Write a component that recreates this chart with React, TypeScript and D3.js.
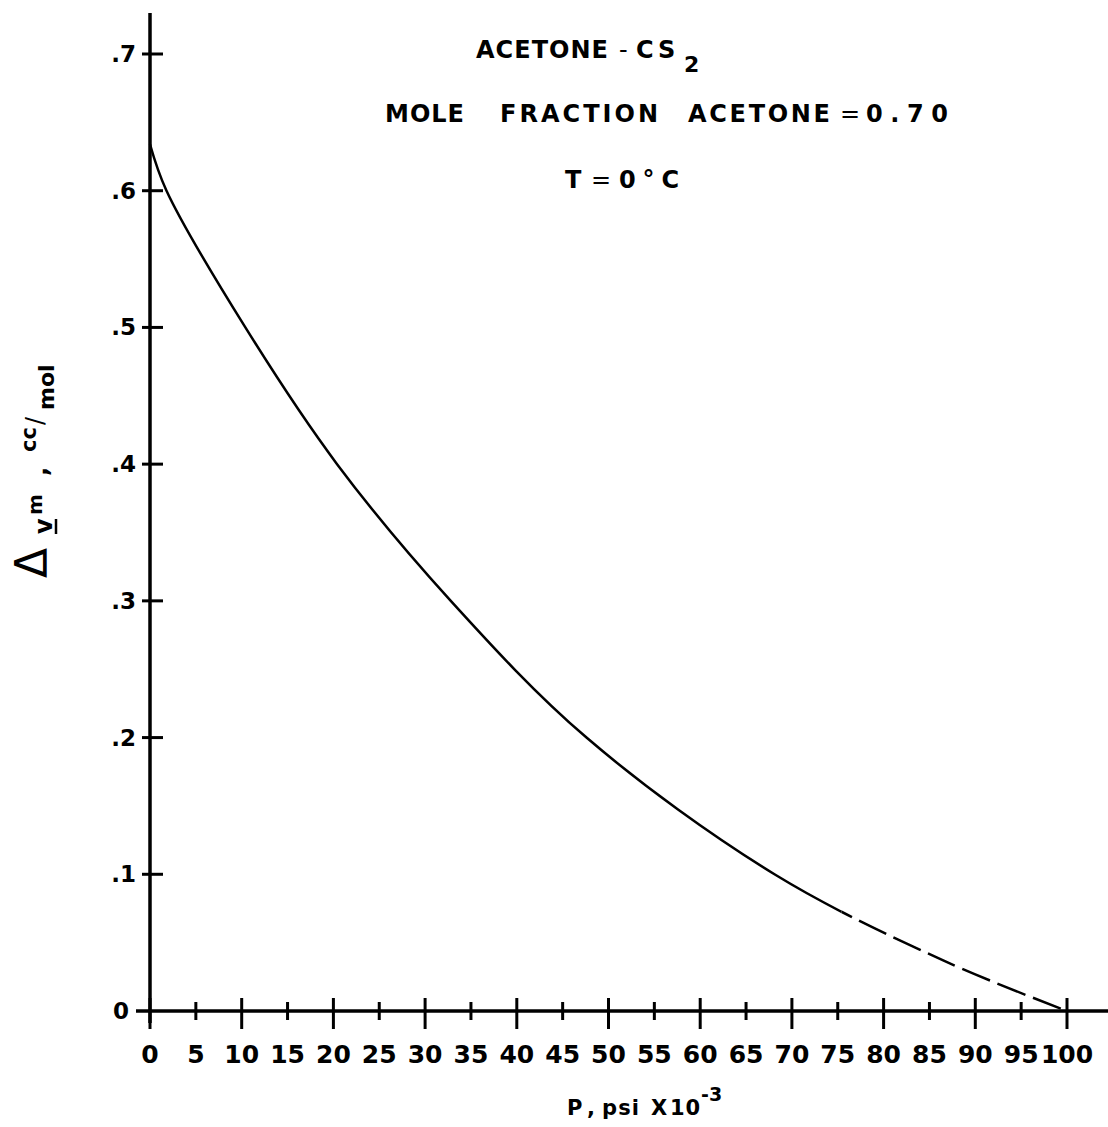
import * as d3 from 'd3'

// curve: P (psi x 10^-3) vs delta Vm (cc/mol)
const pressure = [0, 1.8, 10.4, 20.4, 32.8, 47.6, 68.1, 86.5, 100]
const volume = [0.634, 0.6, 0.5, 0.4, 0.3, 0.2, 0.1, 0.037, 0]
// beyond this pressure the curve is drawn dashed (extrapolated)
const dashedFrom = 75.4

const xTickValues = [0, 5, 10, 15, 20, 25, 30, 35, 40, 45, 50, 55, 60, 65, 70, 75, 80, 85, 90, 95, 100]
const xTickLabels = ['0', '5', '10', '15', '20', '25', '30', '35', '40', '45', '50', '55', '60', '65', '70', '75', '80', '85', '90', '95', '100']
const yTickValues = [0, 0.1, 0.2, 0.3, 0.4, 0.5, 0.6, 0.7]
const yTickLabels = ['0', '.1', '.2', '.3', '.4', '.5', '.6', '.7']

const W = 1108
const H = 1127
const font = '"DejaVu Sans", sans-serif'

const App = () => {
  const x = d3.scaleLinear().domain([0, 100]).range([150, 1067])
  const y = d3.scaleLinear().domain([0, 0.7]).range([1011, 54])

  const line = d3.line<number>()
    .x((d) => x(d))
    .y((_, i) => y(volume[i]))
    .curve(d3.curveCatmullRom.alpha(0.5))

  const curve = line(pressure) ?? ''

  const x0 = x(0)
  const yBase = y(0)
  const xCut = x(dashedFrom)

  const txt = {fontFamily: font, fill: '#000', fontWeight: 'bold' as const}

  return (
    <svg width={W} height={H} viewBox={`0 0 ${W} ${H}`}
         style={{position: 'absolute', left: 0, top: 0, background: '#fff'}}>
      <defs>
        <clipPath id="solidPart">
          <rect x={0} y={0} width={xCut} height={H}/>
        </clipPath>
        <clipPath id="dashedPart">
          <rect x={xCut} y={0} width={W - xCut} height={H}/>
        </clipPath>
      </defs>
      <rect width={W} height={H} fill="#fff"/>

      {/* axes */}
      <line x1={x0} x2={x0} y1={13} y2={yBase + 12} stroke="#000" strokeWidth={3.5}/>
      <line x1={136} x2={W} y1={yBase} y2={yBase} stroke="#000" strokeWidth={3.5}/>

      {xTickValues.map((v, i) => {
        const big = v % 10 === 0
        return (
          <g key={'x' + v}>
            <line x1={x(v)} x2={x(v)} y1={yBase - (big ? 13 : 9)} y2={yBase + (big ? 18 : 9)}
                  stroke="#000" strokeWidth={3}/>
            <text x={x(v)} y={1063} textAnchor="middle" fontSize={25}
                  {...txt}>{xTickLabels[i]}</text>
          </g>
        )
      })}

      {yTickValues.map((v, i) => (
        <g key={'y' + v}>
          {v > 0 && <line x1={x0 - 8} x2={x0 + 13} y1={y(v)} y2={y(v)} stroke="#000" strokeWidth={3}/>}
          <text x={v > 0 ? 136 : 129} y={y(v) + 8} textAnchor="end" fontSize={23}
                {...txt}>{yTickLabels[i]}</text>
        </g>
      ))}

      {/* curve: solid measured part, dashed extrapolation */}
      <path d={curve} fill="none" stroke="#000" strokeWidth={2.5} clipPath="url(#solidPart)"/>
      <path d={curve} fill="none" stroke="#000" strokeWidth={2.5} strokeDasharray="30 8"
            strokeDashoffset={-(xCut - x0) * 1.55} clipPath="url(#dashedPart)"/>

      {/* titles */}
      <g fontSize={24} {...txt}>
        <text x={476} y={58} textLength={132} lengthAdjust="spacing">ACETONE</text>
        <text x={619} y={58} fontWeight="normal">-</text>
        <text x={636} y={58} letterSpacing={4}>CS</text>
        <text x={684} y={72} fontSize={22}>2</text>

        <text x={385} y={122} textLength={79} lengthAdjust="spacing">MOLE</text>
        <text x={500} y={122} textLength={158} lengthAdjust="spacing">FRACTION</text>
        <text x={688} y={122} textLength={142} lengthAdjust="spacing">ACETONE</text>
        <text x={850} y={122} textAnchor="middle" fontWeight="normal">=</text>
        <text x={866} y={122} textLength={82} lengthAdjust="spacing">0.70</text>

        <text x={565} y={188}>T</text>
        <text x={601} y={188} textAnchor="middle" fontWeight="normal">=</text>
        <text x={619} y={188} textLength={60} lengthAdjust="spacing">0°C</text>
      </g>

      {/* x label */}
      <g fontSize={21} {...txt}>
        <text x={567} y={1115}>P</text>
        <text x={587} y={1115}>,</text>
        <text x={602} y={1115} textLength={37} lengthAdjust="spacing">psi</text>
        <text x={651} y={1115}>X</text>
        <text x={670} y={1115} textLength={30} lengthAdjust="spacing">10</text>
        <text x={701} y={1101} fontSize={19}>-3</text>
      </g>

      {/* y label, rotated */}
      <g transform="translate(47,470) rotate(-90)" {...txt}>
        <text x={-108} y={0} fontSize={44} fontWeight="normal">Δ</text>
        <text x={-64} y={5} fontSize={24}>v</text>
        <line x1={-64} x2={-49} y1={9} y2={9} stroke="#000" strokeWidth={2.5}/>
        <text x={-45} y={-5} fontSize={20}>m</text>
        <text x={-6} y={0} fontSize={24}>,</text>
        <text x={18} y={-11} fontSize={21}>cc</text>
        <text x={45} y={-4} fontSize={24} fontWeight="normal">/</text>
        <text x={60} y={7} fontSize={22}>mol</text>
      </g>
    </svg>
  )
}

export default App
